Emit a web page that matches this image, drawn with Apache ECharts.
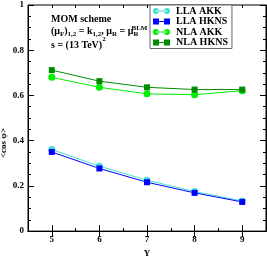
<!DOCTYPE html>
<html><head><meta charset="utf-8">
<script src="https://cdn.jsdelivr.net/npm/echarts@6/dist/echarts.min.js"></script>
<style>html,body{margin:0;padding:0;background:#fff}#c{width:267px;height:263px}</style>
</head><body><div id="c"></div>
<script>
const xValues = [5, 6, 7, 8, 9];
const llaAKK  = [0.361, 0.287, 0.225, 0.175, 0.133];
const llaHKNS = [0.350, 0.277, 0.216, 0.169, 0.129];
const nlaAKK  = [0.680, 0.636, 0.607, 0.603, 0.621];
const nlaHKNS = [0.712, 0.663, 0.636, 0.626, 0.626];
const xMajorTicks = [5, 6, 7, 8, 9];
const seriesNames = ['LLA AKK', 'LLA HKNS', 'NLA AKK', 'NLA HKNS'];

const FONT = 'Liberation Serif';
const circleIcon = 'path://M0,3A3,3 0 1,0 6,3A3,3 0 1,0 0,3Z M3,2.5L14,2.5L14,3.5L3,3.5Z M11,3A3,3 0 1,0 17,3A3,3 0 1,0 11,3Z';
const squareIcon = 'path://M0,0L6,0L6,6L0,6Z M3,2.5L14,2.5L14,3.5L3,3.5Z M11,0L17,0L17,6L11,6Z';

function mk(name, vals, color, symbol) {
  return {
    name, type: 'line', xAxisIndex: 0, yAxisIndex: 0,
    data: xValues.map((x, i) => [x, vals[i]]),
    symbol, symbolSize: symbol === 'rect' ? 6 : 7,
    lineStyle: { color, width: 1 },
    itemStyle: { color },
    animation: false
  };
}
const tickStyle = { color: '#000', width: 1 };
function minorX(pos) {
  return {
    type: 'value', min: 4.5, max: 9.5, interval: 0.5, position: pos,
    axisLine: { show: false },
    axisTick: { show: true, inside: true, length: 3, lineStyle: tickStyle },
    axisLabel: { show: false }, splitLine: { show: false }
  };
}

const chart = echarts.init(document.getElementById('c'), null, { renderer: 'canvas' });
chart.setOption({
  animation: false,
  grid: { left: 28, right: 1, top: 5, bottom: 21, show: true, borderColor: '#000', borderWidth: 1, backgroundColor: 'transparent' },
  xAxis: [{
    type: 'value', min: 4.5, max: 9.5, position: 'bottom',
    axisLine: { show: true, lineStyle: { color: '#000', width: 1 } },
    axisTick: { show: true, inside: true, length: 6, customValues: xMajorTicks, lineStyle: tickStyle },
    axisLabel: { show: true, customValues: xMajorTicks, fontFamily: FONT, fontWeight: 'bold', fontSize: 9, color: '#000', margin: 4 },
    splitLine: { show: false },
    name: 'Y', nameLocation: 'middle', nameGap: 14,
    nameTextStyle: { fontFamily: FONT, fontWeight: 'bold', fontSize: 9, color: '#000' }
  }, {
    type: 'value', min: 4.5, max: 9.5, position: 'top',
    axisLine: { show: true, lineStyle: { color: '#000', width: 1 } },
    axisTick: { show: true, inside: true, length: 6, customValues: xMajorTicks, lineStyle: tickStyle },
    axisLabel: { show: false }, splitLine: { show: false }
  },
  minorX('top'),
  minorX('bottom')
  ],
  yAxis: [{
    type: 'value', min: 0, max: 1, interval: 0.2, position: 'left',
    axisLine: { show: true, lineStyle: { color: '#000' } },
    axisTick: { show: true, inside: true, length: 6, lineStyle: tickStyle },
    minorTick: { show: true, splitNumber: 4, length: 3, lineStyle: tickStyle },
    axisLabel: { fontFamily: FONT, fontWeight: 'bold', fontSize: 9, color: '#000', margin: 4 },
    splitLine: { show: false }
  }, {
    type: 'value', min: 0, max: 1, interval: 0.2, position: 'right',
    axisLine: { show: true, lineStyle: { color: '#000' } },
    axisTick: { show: true, inside: true, length: 6, lineStyle: tickStyle },
    minorTick: { show: true, splitNumber: 4, length: 3, lineStyle: tickStyle },
    axisLabel: { show: false },
    splitLine: { show: false }
  }],
  legend: {
    orient: 'vertical', left: 150, top: 5,
    backgroundColor: '#fff', borderColor: '#666', borderWidth: 1, borderRadius: 0,
    padding: [1, 4, 1, 3], itemGap: 0.5, itemWidth: 17, itemHeight: 6,
    textStyle: { fontFamily: FONT, fontWeight: 'bold', fontSize: 10, color: '#000', lineHeight: 10, padding: [0, 0, 0, 1] },
    data: [
      { name: seriesNames[0], icon: circleIcon },
      { name: seriesNames[1], icon: squareIcon },
      { name: seriesNames[2], icon: circleIcon },
      { name: seriesNames[3], icon: squareIcon }
    ]
  },
  graphic: [
    { type: 'text', left: 51, top: 14, style: { text: 'MOM scheme', font: 'bold 10px "Liberation Serif"', fill: '#000' } },
    { type: 'text', x: 51, y: 27, style: {
        text: '{a|(μ}{s|F}{a|)}{s|1,2}{a| = k}{s|1,2}{a|, μ}{s|R}{a| = μ}{s|R}',
        fill: '#000',
        rich: {
          a: { fontFamily: FONT, fontWeight: 'bold', fontSize: 10, lineHeight: 11, padding: [0, 0, 2, 0], verticalAlign: 'bottom', fill: '#000' },
          s: { fontFamily: FONT, fontWeight: 'bold', fontSize: 7, lineHeight: 8, verticalAlign: 'bottom', fill: '#000' }
        } } },
    { type: 'text', x: 131.5, y: 24.5, style: { text: 'BLM', font: 'bold 7px "Liberation Serif"', fill: '#000' } },
    { type: 'text', x: 51, y: 36, style: {
        text: '{a|s = (13 TeV)}{p|2}',
        fill: '#000',
        rich: {
          a: { fontFamily: FONT, fontWeight: 'bold', fontSize: 10, lineHeight: 14, padding: [4, 0, 0, 0], verticalAlign: 'top', fill: '#000' },
          p: { fontFamily: FONT, fontWeight: 'bold', fontSize: 7, lineHeight: 8, verticalAlign: 'top', fill: '#000' }
        } } },
    { type: 'text', x: 4, y: 143, rotation: Math.PI / 2, style: { text: '<cos φ>', font: 'bold 9px "Liberation Serif"', fill: '#000', align: 'center', verticalAlign: 'middle' } }
  ],
  series: [
    mk(seriesNames[0], llaAKK, '#40e0d0', 'circle'),
    mk(seriesNames[1], llaHKNS, '#0000ff', 'rect'),
    mk(seriesNames[2], nlaAKK, '#00ee00', 'circle'),
    mk(seriesNames[3], nlaHKNS, '#008b00', 'rect')
  ]
});
</script></body></html>
